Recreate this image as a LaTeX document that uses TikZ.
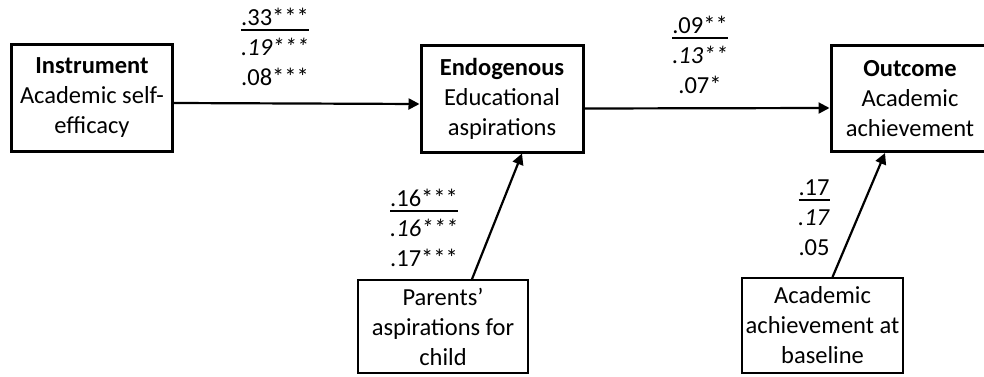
\documentclass[tikz,border=0pt]{standalone}
\usepackage{fontspec}
\setmainfont{Carlito}
\newcommand{\ulcoef}[1]{\vtop{\hbox{#1}\kern3pt\hrule height 1.8pt}}
\usetikzlibrary{positioning, arrows.meta}

\begin{document}
\begin{tikzpicture}[
  x=1pt,
  y=-1pt,
  var/.style={
    draw,
    line width=3pt,
    minimum width=161pt,
    minimum height=106pt,
    inner sep=0pt,
    align=center
  },
  ctrl/.style={
    draw,
    line width=1.8pt,
    inner sep=0pt,
    align=center
  },
  coef/.style={align=center},
  path/.style={->, line width=2.2pt},
  >={Triangle[length=11pt, width=11pt]},
  font=\fontsize{24.5}{30}\selectfont
]

\clip (0,0) rectangle (984,377);

% Instrument
\node[var] (Instrument) at (92,98) {
  \textbf{Instrument}\\
  Academic self-\\
  efficacy
};

% Endogenous
\node[var, minimum width=162pt] (Endogenous) at (502,99) {
  \textbf{Endogenous}\\
  Educational\\
  aspirations
};

% Outcome
\node[var, minimum width=158pt] (Outcome) at (910,98.5) {
  \textbf{Outcome}\\
  Academic\\
  achievement
};

% Covariates
\node[ctrl, minimum width=170pt, minimum height=93pt] (Parents) at (443,326.5) {
  Parents’\\
  aspirations for\\
  child
};
\node[ctrl, minimum width=161pt, minimum height=95pt] (Baseline) at (822.5,325.5) {
  Academic\\
  achievement at\\
  baseline
};

% Paths
\draw[path] ([yshift=-5pt]Instrument.east) -- ([yshift=-5pt]Endogenous.west);
\draw[path] ([yshift=-9.5pt]Endogenous.east) -- ([yshift=-9.5pt]Outcome.west);
\draw[path] ([xshift=29pt]Parents.north) -- ([xshift=20pt]Endogenous.south);
\draw[path] ([xshift=10pt]Baseline.north) -- ([xshift=-25pt]Outcome.south);

% Coefficients
\node[coef] (InstrCoef) at (275,47) {
  \ulcoef{.33***}\\
  \textit{.19***}\\
  .08***
};
\node[coef] (EndoCoef) at (700,55) {
  \ulcoef{.09**}\\
  \textit{.13**}\\
  .07*
};
\node[coef] (ParentsCoef) at (424,228) {
  \ulcoef{.16***}\\
  \textit{.16***}\\
  .17***
};
\node[coef] (BaselineCoef) at (814,218) {
  \ulcoef{.17}\\
  \textit{.17}\\
  .05
};

\end{tikzpicture}
\end{document}
